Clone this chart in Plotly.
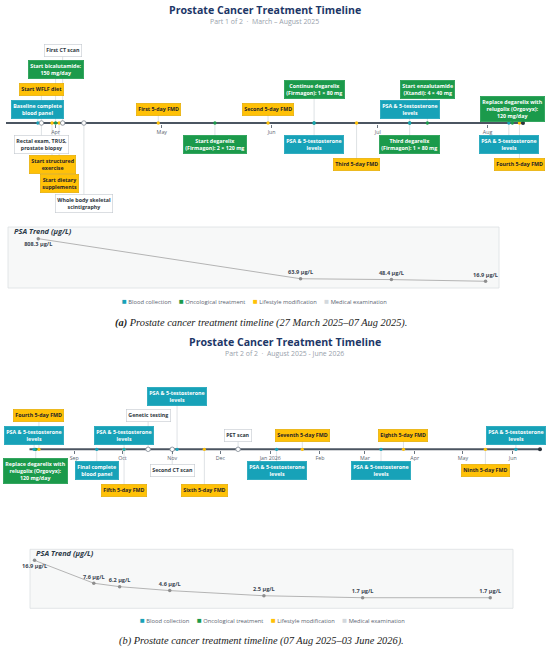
import plotly.graph_objects as go

W, H = 550, 650

# ---------------- data ----------------
KIND_COLORS = {
    'blood': '#17a2b8',
    'onco': '#1b9a4b',
    'life': '#ffc107',
    'exam': '#ffffff',
}
KIND_NAMES = {
    'blood': 'Blood collection',
    'onco': 'Oncological treatment',
    'life': 'Lifestyle modification',
    'exam': 'Medical examination',
}

# part 1 events
P1_DATES = ['2025-03-27', '2025-03-28', '2025-03-28', '2025-03-31', '2025-04-01',
            '2025-04-02', '2025-04-03', '2025-04-09', '2025-04-30', '2025-05-16',
            '2025-05-31', '2025-06-13', '2025-06-13', '2025-06-25', '2025-07-10',
            '2025-07-10', '2025-07-15', '2025-08-07', '2025-08-08', '2025-08-10']
P1_LABELS = ['Baseline complete<br>blood panel', 'Start WFLF diet',
             'Rectal exam, TRUS,<br>prostate biopsy', 'Start structured<br>exercise',
             'Start bicalutamide:<br>150 mg/day', 'Start dietary<br>supplements',
             'First CT scan', 'Whole body skeletal<br>scintigraphy', 'First 5-day FMD',
             'Start degarelix<br>(Firmagon): 2 × 120 mg', 'Second 5-day FMD',
             'Continue degarelix<br>(Firmagon): 1 × 80 mg', 'PSA & 5-testosterone<br>levels',
             'Third 5-day FMD', 'PSA & 5-testosterone<br>levels',
             'Third degarelix<br>(Firmagon): 1 × 80 mg',
             'Start enzalutamide<br>(Xtandi): 4 × 40 mg', 'PSA & 5-testosterone<br>levels',
             'Replace degarelix with<br>relugolix (Orgovyx):<br>120 mg/day', 'Fourth 5-day FMD']
P1_KINDS = ['blood', 'life', 'exam', 'life', 'onco', 'life', 'exam', 'exam', 'life', 'onco',
            'life', 'onco', 'blood', 'life', 'blood', 'onco', 'onco', 'blood', 'onco', 'life']
# label row: + above the line, - below
P1_ROWS = [1, 2, -1, -2, 3, -3, 4, -4, 1, -1, 1, 2, -1, -2, 1, -1, 2, -1, 1, -2]
P1_TICKS = ['2025-04-01', '2025-05-01', '2025-06-01', '2025-07-01', '2025-08-01']
P1_TICKTEXT = ['Apr', 'May', 'Jun', 'Jul', 'Aug']
PSA1_DATES = ['2025-03-27', '2025-06-13', '2025-07-10', '2025-08-07']
PSA1_VALUES = [808.3, 63.9, 48.4, 16.9]

# part 2 events
P2_DATES = ['2025-08-07', '2025-08-08', '2025-08-10', '2025-09-15', '2025-10-02',
            '2025-10-02', '2025-10-17', '2025-11-01', '2025-11-04', '2025-11-21',
            '2025-12-12', '2026-01-05', '2026-01-21', '2026-03-11', '2026-03-25',
            '2026-05-15', '2026-06-03']
P2_LABELS = ['PSA & 5-testosterone<br>levels',
             'Replace degarelix with<br>relugolix (Orgovyx):<br>120 mg/day',
             'Fourth 5-day FMD', 'Final complete<br>blood panel',
             'PSA & 5-testosterone<br>levels', 'Fifth 5-day FMD', 'Genetic testing',
             'Second CT scan', 'PSA & 5-testosterone<br>levels', 'Sixth 5-day FMD',
             'PET scan', 'PSA & 5-testosterone<br>levels', 'Seventh 5-day FMD',
             'PSA & 5-testosterone<br>levels', 'Eighth 5-day FMD', 'Ninth 5-day FMD',
             'PSA & 5-testosterone<br>levels']
P2_KINDS = ['blood', 'onco', 'life', 'blood', 'blood', 'life', 'exam', 'exam', 'blood', 'life',
            'exam', 'blood', 'life', 'blood', 'life', 'life', 'blood']
P2_ROWS = [1, -1, 2, -1, 1, -2, 2, -1, 3, -2, 1, -1, 1, -1, 1, -1, 1]
P2_TICKS = ['2025-09-01', '2025-10-01', '2025-11-01', '2025-12-01', '2026-01-01',
            '2026-02-01', '2026-03-01', '2026-04-01', '2026-05-01', '2026-06-01']
P2_TICKTEXT = ['Sep', 'Oct', 'Nov', 'Dec', 'Jan 2026', 'Feb', 'Mar', 'Apr', 'May', 'Jun']
PSA2_DATES = ['2025-08-07', '2025-09-15', '2025-10-02', '2025-11-04', '2026-01-05',
              '2026-03-11', '2026-06-03']
PSA2_VALUES = [16.9, 7.6, 6.2, 4.6, 2.5, 1.7, 1.7]

FONT = 'Open Sans'


def xp(px):
    return px / W


def yp(px):
    return 1 - px / H


def row_y(r):
    # offset (px) of a label row from the timeline
    if r > 0:
        return 14 + 19.6 * (r - 1)
    return -(21.6 + 19.6 * (-r - 1))


fig = go.Figure()
annotations = []
shapes = []


def add_panel(title, subtitle, dates, labels, kinds, rows, ticks, ticktext,
              psa_dates, psa_vals, g):
    tl, ps = g['tl'], g['psa']
    xa, ya = 'x' + tl, 'y' + tl
    xb, yb = 'x' + ps, 'y' + ps
    ax = g['axis_px']

    fig.layout['xaxis' + tl] = dict(domain=[xp(g['tl_x'][0]), xp(g['tl_x'][1])], type='date',
                                    range=g['rng'], anchor='free', position=yp(ax + 1),
                                    tickvals=ticks, ticktext=ticktext, ticks='outside',
                                    ticklen=2.5, tickwidth=0.8, tickcolor='#6b7580',
                                    showline=False, showgrid=False, zeroline=False,
                                    tickfont=dict(size=5.3, color='#5a6470', family=FONT))
    fig.layout['yaxis' + tl] = dict(domain=[yp(g['tl_span'][1]), yp(g['tl_span'][0])],
                                    range=[ax - g['tl_span'][1], ax - g['tl_span'][0]],
                                    visible=False, anchor=xa)
    fig.layout['xaxis' + ps] = dict(domain=[xp(g['psa_x'][0]), xp(g['psa_x'][1])],
                                    type='date', range=g['rng'], visible=False,
                                    anchor=yb)
    fig.layout['yaxis' + ps] = dict(domain=[yp(g['psa_px'][1]), yp(g['psa_px'][0])],
                                    range=g['psa_rng'], visible=False, anchor=xb)

    # connectors
    for d, r in zip(dates, rows):
        shapes.append(dict(type='line', xref=xa, yref=ya, x0=d, x1=d, y0=0,
                           y1=row_y(r), line=dict(color='#d6dade', width=0.8),
                           layer='below'))
    # main line
    shapes.append(dict(type='line', xref=xa, yref=ya, x0=g['rng'][0], x1=g['rng'][1],
                       y0=0, y1=0, line=dict(color='#4b5561', width=2), layer='below'))
    fig.add_trace(go.Scatter(x=[g['rng'][1]], y=[0], xaxis=xa, yaxis=ya, mode='markers',
                             marker=dict(symbol='circle', size=4, color='#2b333c'),
                             showlegend=False, hoverinfo='skip', cliponaxis=False))

    # event markers
    for k in ['life', 'onco', 'blood', 'exam']:
        xs = [d for d, kk in zip(dates, kinds) if kk == k]
        if k == 'exam':
            mk = dict(symbol='circle', size=4.5, color='white',
                      line=dict(color='#7d8792', width=0.8))
        else:
            mk = dict(symbol='circle', size=3.3, color=KIND_COLORS[k])
        fig.add_trace(go.Scatter(x=xs, y=[0] * len(xs), xaxis=xa, yaxis=ya,
                                 mode='markers', marker=mk, showlegend=False,
                                 cliponaxis=False, hoverinfo='x'))

    # labels
    for d, lab, k, r in zip(dates, labels, kinds, rows):
        if k == 'exam':
            bg, bc, fc = '#ffffff', '#c3c9cf', '#2e3740'
        elif k == 'life':
            bg, bc, fc = KIND_COLORS[k], '#e0a800', '#1f2328'
        else:
            bg, bc, fc = KIND_COLORS[k], KIND_COLORS[k], '#ffffff'
        annotations.append(dict(x=d, y=row_y(r), xref=xa, yref=ya, text=lab,
                                showarrow=False, bgcolor=bg, bordercolor=bc,
                                borderwidth=0.6, borderpad=1.7,
                                xanchor='center', yanchor='middle',
                                font=dict(size=5.3, color=fc, family=FONT, weight='bold')))

    # titles
    cx = xp((g['tl_x'][0] + g['tl_x'][1]) / 2)
    annotations.append(dict(x=cx, y=yp(g['title_px']), xref='paper', yref='paper',
                            xanchor='center', yanchor='middle',
                            text='<b>' + title + '</b>', showarrow=False,
                            font=dict(size=10.6, color='#1d3767', family=FONT)))
    annotations.append(dict(x=cx, y=yp(g['title_px'] + 11.7), xref='paper', yref='paper',
                            xanchor='center', yanchor='middle',
                            text=subtitle, showarrow=False,
                            font=dict(size=6.9, color='#98a1ab', family=FONT)))

    # PSA trend
    shapes.append(dict(type='rect', xref=xb + ' domain', yref=yb + ' domain',
                       x0=0, x1=1, y0=0, y1=1, fillcolor='#f7f8f8',
                       line=dict(color='#dcdfe2', width=0.8), layer='below'))
    fig.add_trace(go.Scatter(x=psa_dates, y=psa_vals, xaxis=xb, yaxis=yb,
                             mode='lines+markers+text',
                             line=dict(color='#b4b4b4', width=1),
                             marker=dict(color='#8e8e8e', size=3.5),
                             texttemplate='%{y:.1f} µg/L',
                             textposition=['bottom center'] + ['top center'] * (len(psa_vals) - 1),
                             textfont=dict(size=5.6, color='#3b4652', family=FONT, weight='bold'),
                             showlegend=False, cliponaxis=False))
    annotations.append(dict(x=xp(g['psa_x'][0] + 3.5), y=yp(g['psa_px'][0] + 3.7),
                            xref='paper', yref='paper', xanchor='left', yanchor='middle',
                            text='<b><i>PSA Trend (µg/L)</i></b>', showarrow=False,
                            font=dict(size=7.4, color='#2c3a48', family=FONT)))

    # legend row
    parts = []
    for k in ['blood', 'onco', 'life', 'exam']:
        c = KIND_COLORS[k] if k != 'exam' else '#d3d8dd'
        parts.append('<span style="color:%s;font-size:8px">■</span> %s' % (c, KIND_NAMES[k]))
    annotations.append(dict(x=xp(g['legend_x']), y=yp(g['legend_px']), xref='paper',
                            yref='paper', xanchor='center', yanchor='middle',
                            text='&#160;&#160;&#160;&#160;&#160;'.join(parts),
                            showarrow=False,
                            font=dict(size=5.8, color='#5a6470', family=FONT)))


add_panel('Prostate Cancer Treatment Timeline', 'Part 1 of 2  ·  March – August 2025',
          P1_DATES, P1_LABELS, P1_KINDS, P1_ROWS, P1_TICKS, P1_TICKTEXT,
          PSA1_DATES, PSA1_VALUES,
          dict(tl='', psa='2', rng=['2025-03-18', '2025-08-11'], tl_x=(6, 523),
               psa_x=(8, 499), axis_px=123, tl_span=(30, 216), psa_px=(227, 288),
               psa_rng=[-108, 1025], title_px=10, legend_x=254.5, legend_px=300.7))
add_panel('Prostate Cancer Treatment Timeline', 'Part 2 of 2  ·  August 2025 - June 2026',
          P2_DATES, P2_LABELS, P2_KINDS, P2_ROWS, P2_TICKS, P2_TICKTEXT,
          PSA2_DATES, PSA2_VALUES,
          dict(tl='3', psa='4', rng=['2025-08-04', '2026-06-18'], tl_x=(29.3, 540),
               psa_x=(30, 513), axis_px=449.3, tl_span=(380, 515), psa_px=(549.3, 608.3),
               psa_rng=[-2.6, 21.4], title_px=341.7, legend_x=272, legend_px=619.3))

# captions
annotations.append(dict(x=xp(261), y=yp(323), xref='paper', yref='paper', showarrow=False,
                        xanchor='center', yanchor='middle',
                        text='<b><i>(a)</i></b><i> Prostate cancer treatment timeline '
                             '(27 March 2025–07 Aug 2025).</i>',
                        font=dict(size=10.4, color='#222222', family='Liberation Serif')))
annotations.append(dict(x=xp(261), y=yp(641.3), xref='paper', yref='paper', showarrow=False,
                        xanchor='center', yanchor='middle',
                        text='<i>(b) Prostate cancer treatment timeline '
                             '(07 Aug 2025–03 June 2026).</i>',
                        font=dict(size=10.4, color='#222222', family='Liberation Serif')))

fig.update_layout(width=W, height=H, margin=dict(l=0, r=0, t=0, b=0),
                  paper_bgcolor='white', plot_bgcolor='rgba(0,0,0,0)',
                  showlegend=False, annotations=annotations, shapes=shapes,
                  font=dict(family=FONT))

# the page's default body margin would shift the figure by 8px
fig.write_html("out.html", config={'displayModeBar': False},
               post_script="document.body.style.margin='0';")
